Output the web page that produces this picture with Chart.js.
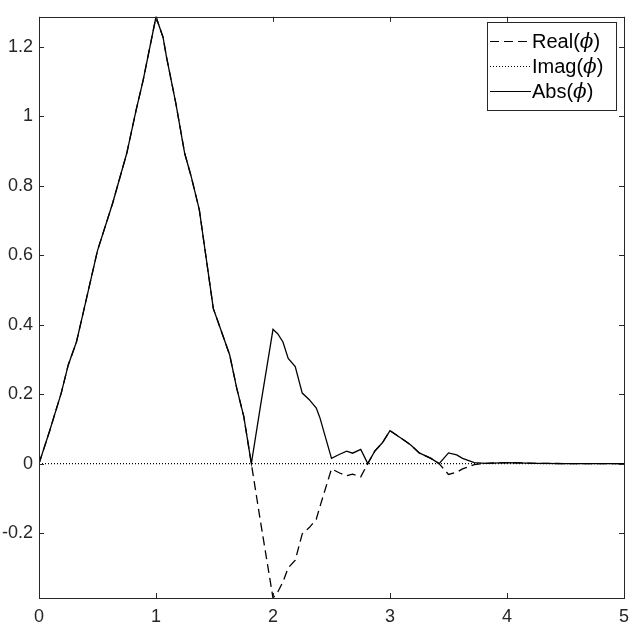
<!DOCTYPE html>
<html>
<head>
<meta charset="utf-8">
<script src="https://cdn.jsdelivr.net/npm/chart.js@4"></script>
<style>
  html, body { margin: 0; padding: 0; background: #fff; }
  #wrap { width: 642px; height: 641px; }
</style>
</head>
<body>
<div id="wrap"><canvas id="myChart"></canvas></div>
<script>
// data
const xVals = [0, 0.09, 0.19, 0.25, 0.32, 0.36, 0.50, 0.63, 0.75, 0.83, 0.89, 1.0,
    1.06, 1.09, 1.13, 1.17, 1.245, 1.30, 1.37, 1.49, 1.53, 1.63, 1.69, 1.75, 1.815,
    1.89, 2.0, 2.04, 2.085, 2.13, 2.19, 2.25, 2.31, 2.37, 2.40, 2.50, 2.57, 2.63, 2.68,
    2.75, 2.81, 2.87, 2.935, 3.0, 3.07, 3.13, 3.18, 3.25, 3.35, 3.42, 3.50, 3.57, 3.62,
    3.72, 3.82, 4.0, 4.25, 4.5, 5.0];
const absVals = [0, 0.093, 0.203, 0.284, 0.35, 0.408, 0.613, 0.75, 0.893, 1.017, 1.103, 1.2857,
    1.227, 1.17, 1.103, 1.036, 0.893, 0.827, 0.731, 0.446, 0.408, 0.3125, 0.217, 0.136, 0,
    0.16, 0.3866, 0.374, 0.35, 0.303, 0.279, 0.203, 0.184, 0.16, 0.133, 0.015, 0.027, 0.036, 0.03,
    0.041, 0, 0.036, 0.06, 0.095, 0.079, 0.065, 0.053, 0.031, 0.015, 0, 0.031, 0.025, 0.015,
    0.003, 0.001, 0.003, 0.001, 0, 0];
const realVals = [0, 0.093, 0.203, 0.284, 0.35, 0.408, 0.613, 0.75, 0.893, 1.017, 1.103, 1.2857,
    1.227, 1.17, 1.103, 1.036, 0.893, 0.827, 0.731, 0.446, 0.408, 0.3125, 0.217, 0.136, 0,
    -0.16, -0.3866, -0.37, -0.34, -0.30, -0.278, -0.202, -0.184, -0.16, -0.125, -0.015, -0.027, -0.035, -0.03,
    -0.038, 0, 0.036, 0.06, 0.095, 0.079, 0.065, 0.053, 0.031, 0.015, 0, -0.031, -0.025, -0.015,
    -0.003, 0.001, 0.003, 0.001, 0, 0];
const imagX = [0, 5];
const imagVals = [0, 0];

const xTicks = [0, 1, 2, 3, 4, 5];
const yTicks = [-0.2, 0, 0.2, 0.4, 0.6, 0.8, 1, 1.2];
const legendNames = ['Real', 'Imag', 'Abs'];

const toPts = (xs, ys) => xs.map((x, i) => ({ x: x, y: ys[i] }));
const ink = '#262626';

// box, inward ticks and legend like the original figure
const boxPlugin = {
    id: 'box',
    afterDatasetsDraw(chart) {
        const ctx = chart.ctx;
        const a = chart.chartArea;
        const sx = chart.scales.x, sy = chart.scales.y;
        ctx.save();
        ctx.strokeStyle = ink;
        ctx.lineWidth = 1;
        ctx.beginPath();
        xTicks.forEach(v => {
            const p = Math.round(sx.getPixelForValue(v)) + 0.5;
            ctx.moveTo(p, a.bottom); ctx.lineTo(p, a.bottom - 5);
            ctx.moveTo(p, a.top); ctx.lineTo(p, a.top + 5);
        });
        yTicks.forEach(v => {
            const p = Math.round(sy.getPixelForValue(v)) + 0.5;
            ctx.moveTo(a.left, p); ctx.lineTo(a.left + 5, p);
            ctx.moveTo(a.right, p); ctx.lineTo(a.right - 5, p);
        });
        ctx.stroke();
        ctx.strokeRect(Math.round(a.left) + 0.5, Math.round(a.top) + 0.5,
            Math.round(a.right - a.left), Math.round(a.bottom - a.top));

        // legend
        const lx = 487, ly = 22, lw = 129, lh = 88;
        ctx.fillStyle = '#fff';
        ctx.fillRect(lx, ly, lw, lh);
        ctx.strokeStyle = ink;
        ctx.strokeRect(lx + 0.5, ly + 0.5, lw, lh);
        const rows = [41, 66, 91];
        const dashes = [[9, 5], [1, 2], []];
        chart.data.datasets.forEach((ds, i) => {
            const y = rows[i] + 0.5;
            ctx.save();
            ctx.strokeStyle = '#000';
            ctx.lineWidth = 1.2;
            ctx.setLineDash(dashes[i]);
            ctx.beginPath();
            ctx.moveTo(490, y); ctx.lineTo(531, y);
            ctx.stroke();
            ctx.restore();
            ctx.fillStyle = '#000';
            ctx.textBaseline = 'middle';
            ctx.textAlign = 'left';
            let tx = 532;
            ctx.font = '20px "Liberation Sans", Arial, sans-serif';
            ctx.fillText(legendNames[i] + '(', tx, y + 1);
            tx += ctx.measureText(legendNames[i] + '(').width;
            ctx.font = 'italic 20px "DejaVu Serif", serif';
            ctx.fillText('\u03d5', tx, y + 1);
            tx += ctx.measureText('\u03d5').width;
            ctx.font = '20px "Liberation Sans", Arial, sans-serif';
            ctx.fillText(')', tx, y + 1);
        });
        ctx.restore();
    }
};

const ctx = document.getElementById('myChart');
new Chart(ctx, {
    type: 'line',
    data: {
        datasets: [
            {
                label: 'Real',
                data: toPts(xVals, realVals),
                borderColor: '#000',
                borderWidth: 1.3,
                borderDash: [9, 5],
                pointRadius: 0,
                tension: 0
            },
            {
                label: 'Imag',
                data: toPts(imagX, imagVals),
                borderColor: '#000',
                borderWidth: 1.2,
                borderDash: [1, 2],
                pointRadius: 0,
                tension: 0
            },
            {
                label: 'Abs',
                data: toPts(xVals, absVals),
                borderColor: '#000',
                borderWidth: 1.3,
                pointRadius: 0,
                tension: 0
            }
        ]
    },
    options: {
        responsive: true,
        maintainAspectRatio: false,
        animation: false,
        layout: { padding: { top: 13, right: 18, left: 0, bottom: 0 } },
        plugins: {
            legend: { display: false },
            tooltip: { enabled: false }
        },
        scales: {
            x: {
                type: 'linear',
                min: 0,
                max: 5,
                afterFit: s => { s.height = 43; },
                afterBuildTicks: s => { s.ticks = xTicks.map(v => ({ value: v })); },
                grid: { display: false, drawTicks: false },
                border: { display: false },
                ticks: {
                    color: ink,
                    padding: 8,
                    maxRotation: 0,
                    font: { family: '"Liberation Sans", Arial, sans-serif', size: 18 }
                }
            },
            y: {
                type: 'linear',
                min: -0.3866,
                max: 1.2857,
                afterFit: s => { s.width = 39; },
                afterBuildTicks: s => { s.ticks = yTicks.map(v => ({ value: v })); },
                grid: { display: false, drawTicks: false },
                border: { display: false },
                ticks: {
                    color: ink,
                    padding: 6,
                    font: { family: '"Liberation Sans", Arial, sans-serif', size: 18 },
                    callback: v => String(Math.round(v * 10) / 10)
                }
            }
        }
    },
    plugins: [boxPlugin]
});
</script>
</body>
</html>
